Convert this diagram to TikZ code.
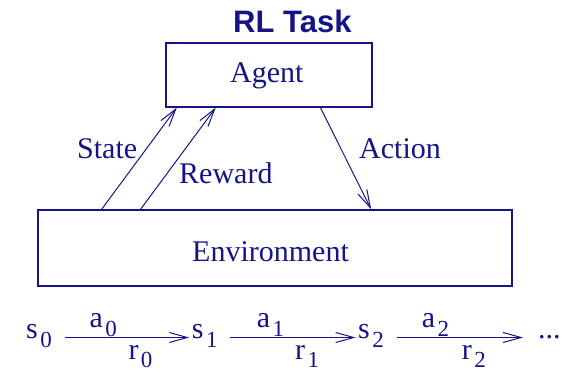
\documentclass[tikz,border=0pt]{standalone}
\usepackage{fontspec}
\setmainfont{Liberation Serif}
\newfontfamily\titlefont{Liberation Sans}
\usetikzlibrary{arrows.meta,calc}
\definecolor{navy}{RGB}{20,20,135}
\newcommand\lsub[2][9pt]{\kern2.5pt\raisebox{-#1}{\fontsize{23}{26}\selectfont #2}}
\begin{document}
\begin{tikzpicture}[x=1pt,y=-1pt,
  box/.style={draw=navy,line width=1.2pt,inner sep=0pt},
  lbl/.style={text=navy,font=\fontsize{30}{36}\selectfont,inner sep=0pt,anchor=base west},
  ttl/.style={text=navy,font=\titlefont\bfseries\fontsize{31}{36}\selectfont,inner sep=0pt,anchor=base west},
  flow/.style={draw=navy,line width=1pt,-{Straight Barb[length=18pt,width=10pt,line width=1pt]}},
]
\useasboundingbox (0,0) rectangle (564,373);
% title
\node[ttl] (title) at (233,32) {RL Task};
% boxes
\node[box,minimum width=206pt,minimum height=64pt] (agent) at (269,75) {};
\node[lbl] (agenttxt) at (230,82) {Agent};
\node[box,minimum width=474pt,minimum height=76pt] (env) at (275,248) {};
\node[lbl] (envtxt) at (192,261) {Environment};
% connectors
\coordinate (stS) at ($(env.north west)!0.135!(env.north east)$);
\coordinate (stE) at ($(agent.south west)!0.055!(agent.south east)$);
\coordinate (rwS) at ($(env.north west)!0.217!(env.north east)$);
\coordinate (rwE) at ($(agent.south west)!0.243!(agent.south east)$);
\coordinate (acS) at ($(agent.south west)!0.748!(agent.south east)$);
\coordinate (acE) at ($(env.north west)!0.7025!(env.north east)$);
\draw[flow] (stS) -- (stE);
\draw[flow] (rwS) -- (rwE);
\draw[flow] (acS) -- (acE);
\node[lbl] (state) at (77,158) {State};
\node[lbl] (reward) at (179,183) {Reward};
\node[lbl] (action) at (359,158) {Action};
% sequence
\node[lbl] (s0) at (26,338) {s\lsub{0}};
\node[lbl] (s1) at (191.7,338) {s\lsub{1}};
\node[lbl] (s2) at (358,338) {s\lsub{2}};
\node[lbl] (dots) at (538,338) {...};
\draw[flow] ($(s0.base east)+(12.5,-0.5)$) -- ($(s1.base west)+(-2.5,-0.5)$);
\draw[flow] ($(s1.base east)+(12.5,-0.5)$) -- ($(s2.base west)+(-2.5,-0.5)$);
\draw[flow] ($(s2.base east)+(13,-0.5)$) -- ($(dots.base west)+(-15,-0.5)$);
\node[lbl] (a0) at (89.3,327) {a\lsub{0}};
\node[lbl] (a1) at (256.7,327) {a\lsub{1}};
\node[lbl] (a2) at (421.7,327) {a\lsub{2}};
\node[lbl] (r0) at (128.3,359) {r\lsub[8pt]{0}};
\node[lbl] (r1) at (295,359) {r\lsub[8pt]{1}};
\node[lbl] (r2) at (461.7,359) {r\lsub[8pt]{2}};
\end{tikzpicture}
\end{document}
